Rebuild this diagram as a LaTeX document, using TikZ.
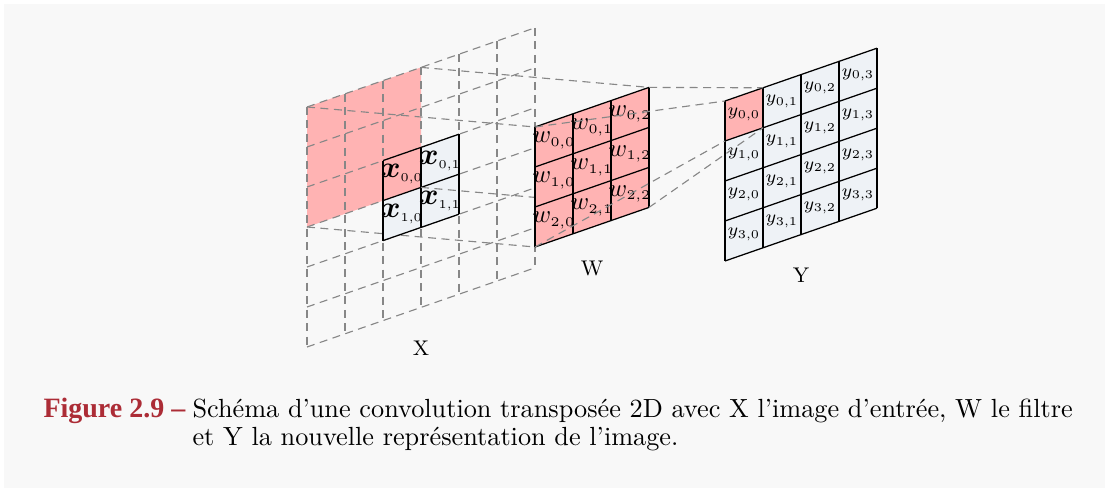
\documentclass[tikz,border=0pt]{standalone}
\usepackage{fontspec}
\usepackage{amsmath}
\newfontfamily\figfont{Liberation Serif}
\definecolor{cellpink}{RGB}{255,179,179}
\definecolor{cellblue}{RGB}{238,242,246}
\definecolor{bggray}{RGB}{248,248,248}
\definecolor{dashgray}{RGB}{135,135,135}
\definecolor{figred}{RGB}{172,44,54}
\newcommand\xsub[1]{\text{\fontsize{4.8}{6}\selectfont #1}}
\newcommand\wsub[1]{\text{\fontsize{5.3}{6.5}\selectfont #1}}
\newcommand\ysub[1]{\text{\fontsize{4.8}{5.5}\selectfont #1}}
\tikzset{
  dashline/.style={draw=dashgray, line width=0.45pt, dash pattern=on 3.2pt off 2.2pt},
  cellline/.style={draw=black, line width=0.5pt},
  xtext/.style={inner sep=0pt, font=\fontsize{12}{14}\selectfont},
  wtext/.style={inner sep=0pt, font=\fontsize{10}{12}\selectfont},
  ytext/.style={inner sep=0pt, font=\fontsize{7.3}{8.5}\selectfont},
  namelbl/.style={inner sep=0pt, font=\fontsize{8.5}{10}\selectfont},
  captxt/.style={anchor=base west, inner sep=0pt, font=\fontsize{10.5}{12}\selectfont},
  Xsys/.style={shift={(307,107)}, x={(15.2pt,5.28pt)}, y={(0pt,-16pt)}},
  Wsys/.style={shift={(535,127)}, x={(15.2pt,5.28pt)}, y={(0pt,-16pt)}},
  Ysys/.style={shift={(725,101)}, x={(15.2pt,5.28pt)}, y={(0pt,-16pt)}},
}
\begin{document}
\begin{tikzpicture}[x=0.4pt,y=-0.4pt]
\useasboundingbox (0,0) rectangle (1105,492);
\fill[white] (0,0) rectangle (1105,492);
\fill[bggray] (4,4) rectangle (1105,488);

% corner coordinates
\begin{scope}[Xsys]
  \coordinate (pTL) at (0,0); \coordinate (pTR) at (3,0);
  \coordinate (pBL) at (0,3); \coordinate (pBR) at (3,3);
\end{scope}
\begin{scope}[Wsys]
  \coordinate (wTL) at (0,0); \coordinate (wTR) at (3,0);
  \coordinate (wBL) at (0,3); \coordinate (wBR) at (3,3);
\end{scope}
\begin{scope}[Ysys]
  \coordinate (yTL) at (0,0); \coordinate (yTR) at (1,0);
  \coordinate (yBL) at (0,1); \coordinate (yBR) at (1,1);
\end{scope}

% padded input X
\begin{scope}[Xsys]
  \fill[cellpink] (0,0) -- (3,0) -- (3,3) -- (0,3) -- cycle;
  \foreach \i in {0,...,6} {
    \draw[dashline] (\i,0) -- (\i,6);
    \draw[dashline] (0,\i) -- (6,\i);
  }
\end{scope}

\draw[dashline] (pBL) -- (wBL);

\begin{scope}[Xsys]
  \fill[cellblue] (2,2) -- (4,2) -- (4,4) -- (2,4) -- cycle;
  \fill[cellpink] (2,2) -- (3,2) -- (3,3) -- (2,3) -- cycle;
  \foreach \i in {2,3,4} {
    \draw[cellline] (\i,2) -- (\i,4);
    \draw[cellline] (2,\i) -- (4,\i);
  }
  \node[xtext] (x00) at (2.5,2.5) {$\boldsymbol{x}_{\xsub{0,0}}$};
  \node[xtext] (x01) at (3.5,2.5) {$\boldsymbol{x}_{\xsub{0,1}}$};
  \node[xtext] (x10) at (2.5,3.5) {$\boldsymbol{x}_{\xsub{1,0}}$};
  \node[xtext] (x11) at (3.5,3.5) {$\boldsymbol{x}_{\xsub{1,1}}$};
\end{scope}

\draw[dashline] (pTL) -- (wTL);
\draw[dashline] (pTR) -- (wTR);
\draw[dashline] (pBR) -- (wBR);

% filter W
\begin{scope}[Wsys]
  \fill[cellpink] (0,0) -- (3,0) -- (3,3) -- (0,3) -- cycle;
  \foreach \i in {0,...,3} {
    \draw[cellline] (\i,0) -- (\i,3);
    \draw[cellline] (0,\i) -- (3,\i);
  }
  \foreach \r in {0,1,2} {
    \foreach \c in {0,1,2} {
      \node[wtext] (w\r\c) at (\c+0.5,\r+0.5) {$w_{\wsub{\r,\c}}$};
    }
  }
\end{scope}

% output Y
\begin{scope}[Ysys]
  \fill[cellblue] (0,0) -- (4,0) -- (4,4) -- (0,4) -- cycle;
  \fill[cellpink] (0,0) -- (1,0) -- (1,1) -- (0,1) -- cycle;
  \foreach \i in {0,...,4} {
    \draw[cellline] (\i,0) -- (\i,4);
    \draw[cellline] (0,\i) -- (4,\i);
  }
  \foreach \r in {0,...,3} {
    \foreach \c in {0,...,3} {
      \node[ytext] (y\r\c) at (\c+0.5,\r+0.5) {$y_{\ysub{\r,\c}}$};
    }
  }
\end{scope}

\draw[dashline] (wTL) -- (yTL);
\draw[dashline] (wTR) -- (yTR);
\draw[dashline] (wBL) -- (yBL);
\draw[dashline] (wBR) -- (yBR);

% names
\node[namelbl] (lX) at (421,348) {X};
\node[namelbl] (lW) at (592,268) {W};
\node[namelbl] (lY) at (801,275) {Y};

% caption
\node[anchor=base west, inner sep=0pt, text=figred, font=\figfont\bfseries\fontsize{11.2}{13}\selectfont] (capnum) at (43,417) {Figure 2.9 –};
\node[captxt] (cap1) at (192,417) {Schéma d’une convolution transposée 2D avec X l’image d’entrée, W le filtre};
\node[captxt] (cap2) at (192,445) {et Y la nouvelle représentation de l’image.};
\end{tikzpicture}
\end{document}
